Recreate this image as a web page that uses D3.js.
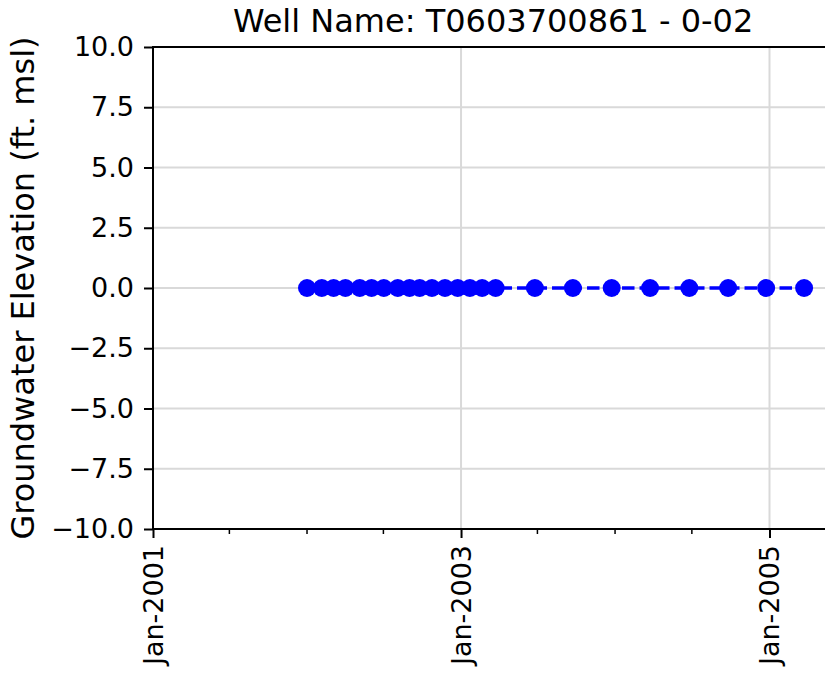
<!DOCTYPE html>
<html><head><meta charset="utf-8">
<script src="https://cdn.jsdelivr.net/npm/d3@7"></script>
<style>body{margin:0;background:#fff}svg{display:block;font-family:"DejaVu Sans",sans-serif}</style>
</head><body><svg id="c" width="825" height="674"></svg>
<script>
const title = "Well Name: T0603700861 - 0-02";
const yLabel = "Groundwater Elevation (ft. msl)";
const dates = ["2002-01-01","2002-02-05","2002-03-05","2002-04-02","2002-05-06","2002-06-03","2002-07-02","2002-08-04","2002-09-01","2002-09-25","2002-10-24","2002-11-24","2002-12-24","2003-01-22","2003-02-20","2003-03-24","2003-06-25","2003-09-23","2003-12-24","2004-03-24","2004-06-25","2004-09-25","2004-12-24","2005-03-24"];
const values = [0,0,0,0,0,0,0,0,0,0,0,0,0,0,0,0,0,0,0,0,0,0,0,0];
const yTicks = [-10,-7.5,-5,-2.5,0,2.5,5,7.5,10];
const xMajor = ["2001-01-01","2003-01-01","2005-01-01"];
const xMinor = ["2001-07-01","2002-01-01","2002-07-01","2003-07-01","2004-01-01","2004-07-01"];
const xDomain = ["2001-01-01","2005-06-01"];

const parse = d3.utcParse("%Y-%m-%d");
const svg = d3.select("#c");
const L = 153, T = 47, B = 529;
const pxPerDay = (769.5 - 153) / 1461;
const dEnd = parse(xDomain[1]), dStart = parse(xDomain[0]);
const R = L + (dEnd - dStart) / 864e5 * pxPerDay;
const x = d3.scaleUtc().domain([dStart, dEnd]).range([L, R]);
const y = d3.scaleLinear().domain([-10, 10]).range([B, T]);
const TICK = 27, LAB = 32;

// grid
svg.append("g").selectAll("line").data(yTicks).join("line")
  .attr("x1", L).attr("x2", R).attr("y1", d => y(d)).attr("y2", d => y(d))
  .attr("stroke", "#d9d9d9").attr("stroke-width", 2);
svg.append("g").selectAll("line").data(xMajor.map(parse)).join("line")
  .attr("x1", d => x(d)).attr("x2", d => x(d)).attr("y1", T).attr("y2", B)
  .attr("stroke", "#d9d9d9").attr("stroke-width", 2);

// line + markers
const pts = dates.map((d, i) => ({d: parse(d), v: values[i]}));
svg.append("path").datum(pts)
  .attr("d", d3.line().x(p => x(p.d)).y(p => y(p.v)))
  .attr("fill", "none").attr("stroke", "#0000ff").attr("stroke-width", 3.3)
  .attr("stroke-dasharray", "12.5,5");
svg.append("g").selectAll("circle").data(pts).join("circle")
  .attr("cx", p => x(p.d)).attr("cy", p => y(p.v)).attr("r", 9)
  .attr("fill", "#0000ff");

// axes
const yAxis = d3.axisLeft(y).tickValues(yTicks).tickSize(9).tickPadding(10)
  .tickFormat(d => d3.format(".1f")(d).replace("-", "\u2212"));
const gy = svg.append("g").attr("transform", `translate(${L},0)`).call(yAxis);
gy.select(".domain").remove();
gy.selectAll("line").attr("stroke", "#000").attr("stroke-width", 2);
gy.selectAll("text").attr("font-size", TICK).attr("fill", "#000").attr("font-family", "DejaVu Sans");

const xAxis = d3.axisBottom(x).tickValues(xMajor.map(parse)).tickSize(9).tickPadding(6)
  .tickFormat(d3.utcFormat("%b-%Y"));
const gx = svg.append("g").attr("transform", `translate(0,${B})`).call(xAxis);
gx.select(".domain").remove();
gx.selectAll("line").attr("stroke", "#000").attr("stroke-width", 2);
gx.selectAll("text").attr("font-size", TICK).attr("fill", "#000").attr("font-family", "DejaVu Sans")
  .attr("transform", "rotate(-90)").attr("text-anchor", "end")
  .attr("x", -16).attr("y", 0).attr("dy", "0.35em");
svg.append("g").selectAll("line").data(xMinor.map(parse)).join("line")
  .attr("x1", d => x(d)).attr("x2", d => x(d)).attr("y1", B).attr("y2", B + 5)
  .attr("stroke", "#000").attr("stroke-width", 1.5);

// spines
const sp = [[L, T, L, B], [L, B, R, B], [L, T, R, T], [R, T, R, B]];
svg.append("g").selectAll("line").data(sp).join("line")
  .attr("x1", d => d[0]).attr("y1", d => d[1]).attr("x2", d => d[2]).attr("y2", d => d[3])
  .attr("stroke", "#000").attr("stroke-width", 2).attr("stroke-linecap", "square");

// title & labels
svg.append("text").attr("x", (L + R) / 2).attr("y", 32).attr("text-anchor", "middle")
  .attr("font-size", LAB).attr("fill", "#000").text(title);
svg.append("text").attr("transform", `translate(34,${(T + B) / 2}) rotate(-90)`)
  .attr("text-anchor", "middle").attr("font-size", LAB).attr("fill", "#000").text(yLabel);
</script></body></html>
